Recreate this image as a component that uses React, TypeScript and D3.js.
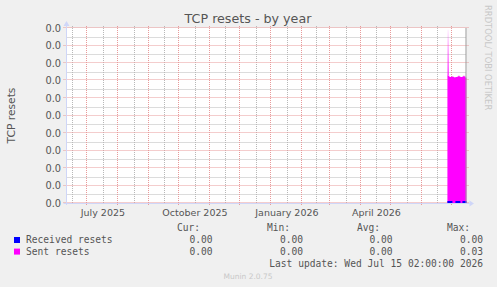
import React from 'react';
import * as d3 from 'd3';

const W = 497;
const H = 287;

const rangeStart = new Date(2025, 5, 10, 2, 0, 0);
const rangeEnd = new Date(2026, 6, 15, 2, 0, 0);

const yMax = 0.03;
const yMajorTicks = [0, 0.003, 0.006, 0.009, 0.012, 0.015, 0.018, 0.021, 0.024, 0.027, 0.03];
const yMinorTicks = [0.0015, 0.0045, 0.0075, 0.0105, 0.0135, 0.0165, 0.0195, 0.0225, 0.0255, 0.0285];

const sampleDates = [
  '2026-06-26', '2026-06-27', '2026-06-28', '2026-06-29', '2026-06-30',
  '2026-07-01', '2026-07-02', '2026-07-03', '2026-07-04', '2026-07-05',
  '2026-07-06', '2026-07-07', '2026-07-08', '2026-07-09', '2026-07-10',
  '2026-07-11', '2026-07-12', '2026-07-13', '2026-07-14', '2026-07-15',
];
const sentValues = [
  0.0219, 0.0218, 0.0216, 0.0216, 0.0217, 0.0217, 0.0216, 0.0215, 0.0216, 0.0216,
  0.0217, 0.0218, 0.0217, 0.0216, 0.0216, 0.0217, 0.0218, 0.0217, 0.0215, 0.0214,
];
const sentPeak = 0.0297;
const receivedValues: (number | null)[] = [
  0, 0, 0, 0, 0, 0, null, null, 0, 0, 0, 0, 0, 0, null, 0, 0, 0, 0, 0,
];

const legendNames = ['Received resets', 'Sent resets'];
const legendColors = ['#0000ff', '#ff00ff'];
const legendHeaders = ['Cur:', 'Min:', 'Avg:', 'Max:'];
const legendStats = [
  ['0.00', '0.00', '0.00', '0.00'],
  ['0.00', '0.00', '0.00', '0.03'],
];

const parseDay = d3.timeParse('%Y-%m-%d');

export default function App() {
  const left = 66.5;
  const right = 466.5;
  const top = 28;
  const bottom = 203;

  const x = d3.scaleTime().domain([rangeStart, rangeEnd]).range([left, right]);
  const y = d3.scaleLinear().domain([0, yMax]).range([bottom, top]);

  const dates = sampleDates.map((s) => parseDay(s) as Date);

  const months = d3.timeMonth.range(d3.timeMonth.floor(rangeStart), rangeEnd);
  const majorX = months.filter((m) => m >= rangeStart);
  const midOf = (m: Date) => new Date((m.getTime() + d3.timeMonth.offset(m, 1).getTime()) / 2);
  const minorX = months.map(midOf).filter((m) => m >= rangeStart && m <= rangeEnd);
  const labelMonths = months.filter(
    (m) => m.getMonth() % 3 === 0 && midOf(m) >= rangeStart && midOf(m) <= rangeEnd,
  );
  const fmtMonth = d3.timeFormat('%B %Y');
  const fmtY = d3.format('.1f');

  type P = { d: Date; v: number | null };
  const sentPts: P[] = dates.map((d, i) => ({ d, v: sentValues[i] }));
  sentPts.push({ d: rangeEnd, v: sentValues[sentValues.length - 1] });
  const recPts: P[] = dates.map((d, i) => ({ d, v: receivedValues[i] }));
  recPts.push({ d: rangeEnd, v: receivedValues[receivedValues.length - 1] });

  const area = d3
    .area<P>()
    .x((p) => x(p.d))
    .y0(y(0))
    .y1((p) => y(p.v as number))
    .curve(d3.curveStepAfter);

  const line = d3
    .line<P>()
    .defined((p) => p.v !== null)
    .x((p) => x(p.d))
    .y((p) => y(p.v as number) - 1)
    .curve(d3.curveStepAfter);

  const peakX0 = x(dates[0]);
  const peakX1 = x(dates[2]) - 0.5;
  const peakTop = y(sentPeak);
  const peakBottom = y(sentValues[0]);

  const font = 'DejaVu Sans, sans-serif';
  const mono = 'DejaVu Sans Mono, monospace';
  const textColor = '#555555';
  const gridRed = '#e89a9a';
  const gridGray = '#b8b8b8';
  const axisColor = '#cfd6f8';

  const headerX = [200, 290, 380, 470];
  const valueX = [212.5, 303, 392.5, 483];
  const rowY = [243, 254.6];

  return (
    <svg
      width={W}
      height={H}
      style={{ position: 'fixed', left: 0, top: 0, display: 'block' }}
      xmlns="http://www.w3.org/2000/svg"
    >
      <defs>
        <linearGradient id="peakGrad" x1="0" y1="0" x2="0" y2="1">
          <stop offset="0" stopColor="#ff00ff" stopOpacity={0.05} />
          <stop offset="1" stopColor="#ff00ff" stopOpacity={0.75} />
        </linearGradient>
      </defs>
      <rect x={0} y={0} width={W} height={H} fill="#f0f0f0" />
      <rect x={left} y={top} width={right - left} height={bottom - top} fill="#ffffff" />

      {/* minor horizontal grid */}
      {yMinorTicks.map((t) => (
        <line
          key={'ym' + t}
          x1={left}
          x2={right}
          y1={Math.round(y(t)) + 0.5}
          y2={Math.round(y(t)) + 0.5}
          stroke={gridGray}
          strokeDasharray="1,1"
        />
      ))}
      {/* minor vertical grid */}
      {minorX.map((d) => (
        <line
          key={'xm' + d.getTime()}
          x1={Math.round(x(d)) + 0.5}
          x2={Math.round(x(d)) + 0.5}
          y1={top - 2}
          y2={bottom}
          stroke={gridGray}
          strokeDasharray="1,1"
        />
      ))}
      {/* major horizontal grid */}
      {yMajorTicks.map((t) => (
        <line
          key={'yM' + t}
          x1={left - 3}
          x2={right + 3}
          y1={Math.round(y(t)) - 0.5}
          y2={Math.round(y(t)) - 0.5}
          stroke={gridRed}
          strokeDasharray="1,1"
        />
      ))}
      {/* major vertical grid */}
      {majorX.map((d) => (
        <line
          key={'xM' + d.getTime()}
          x1={Math.round(x(d)) - 0.5}
          x2={Math.round(x(d)) - 0.5}
          y1={top - 2}
          y2={bottom + 3}
          stroke={gridRed}
          strokeDasharray="1,1"
        />
      ))}

      {/* data */}
      <path d={area(sentPts) || ''} fill="#ff00ff" />
      <path
        d={`M${peakX0},${peakBottom}L${peakX0},${peakTop}L${peakX1},${peakTop}L${peakX1},${peakBottom}Z`}
        fill="url(#peakGrad)"
      />
      <path d={line(recPts) || ''} fill="none" stroke="#0000ff" strokeWidth={2} />

      {/* right edge line */}
      <line x1={right - 0.5} x2={right - 0.5} y1={top} y2={bottom} stroke="#999999" />

      {/* axes */}
      <line x1={left - 3} x2={right + 3} y1={bottom + 0.5} y2={bottom + 0.5} stroke={axisColor} />
      <line x1={left} x2={left} y1={bottom + 2} y2={top - 4} stroke={axisColor} />
      <path d={`M${left - 3},${top - 2}L${left + 3},${top - 2}L${left},${top - 7}Z`} fill={axisColor} />
      <path
        d={`M${right + 3},${bottom - 2.5}L${right + 3},${bottom + 3.5}L${right + 7.5},${bottom + 0.5}Z`}
        fill={axisColor}
      />

      {/* y labels */}
      {yMajorTicks.map((t) => (
        <text
          key={'yl' + t}
          x={61}
          y={y(t)}
          dy="0.36em"
          textAnchor="end"
          fontFamily={font}
          fontSize={9.8}
          fill={textColor}
        >
          {fmtY(t)}
        </text>
      ))}
      {/* x labels */}
      {labelMonths.map((m) => (
        <text
          key={'xl' + m.getTime()}
          x={x(midOf(m))}
          y={216}
          textAnchor="middle"
          fontFamily={font}
          fontSize={9.5}
          fill={textColor}
        >
          {fmtMonth(m)}
        </text>
      ))}

      {/* title */}
      <text x={248} y={23} textAnchor="middle" fontFamily={font} fontSize={12.7} fill={textColor}>
        TCP resets - by year
      </text>
      {/* y axis title */}
      <text
        transform={`translate(14.5,${(top + bottom) / 2}) rotate(-90)`}
        textAnchor="middle"
        fontFamily={font}
        fontSize={10.7}
        fill={textColor}
      >
        TCP resets
      </text>
      {/* watermark right */}
      <text
        transform="translate(485,5) rotate(90)"
        textAnchor="start"
        fontFamily={font}
        fontSize={8.4}
        fill="#c8c8c8"
      >
        RRDTOOL/ TOBI OETIKER
      </text>

      {/* legend */}
      {legendHeaders.map((h, i) => (
        <text
          key={'lh' + h}
          x={headerX[i]}
          y={231}
          textAnchor="end"
          fontFamily={mono}
          fontSize={9.6}
          fill={textColor}
        >
          {h}
        </text>
      ))}
      {legendNames.map((n, r) => (
        <g key={'ln' + n}>
          <rect x={14} y={rowY[r] - 6} width={6} height={6} fill={legendColors[r]} />
          <text x={26} y={rowY[r]} fontFamily={mono} fontSize={9.6} fill={textColor}>
            {n}
          </text>
          {legendStats[r].map((v, i) => (
            <text
              key={'lv' + r + i}
              x={valueX[i]}
              y={rowY[r]}
              textAnchor="end"
              fontFamily={mono}
              fontSize={9.6}
              fill={textColor}
            >
              {v}
            </text>
          ))}
        </g>
      ))}
      <text x={483} y={266.5} textAnchor="end" fontFamily={mono} fontSize={9.6} fill={textColor}>
        Last update: Wed Jul 15 02:00:00 2026
      </text>
      <text x={248} y={279} textAnchor="middle" fontFamily={font} fontSize={7.5} fill="#c8c8c8">
        Munin 2.0.75
      </text>
    </svg>
  );
}
